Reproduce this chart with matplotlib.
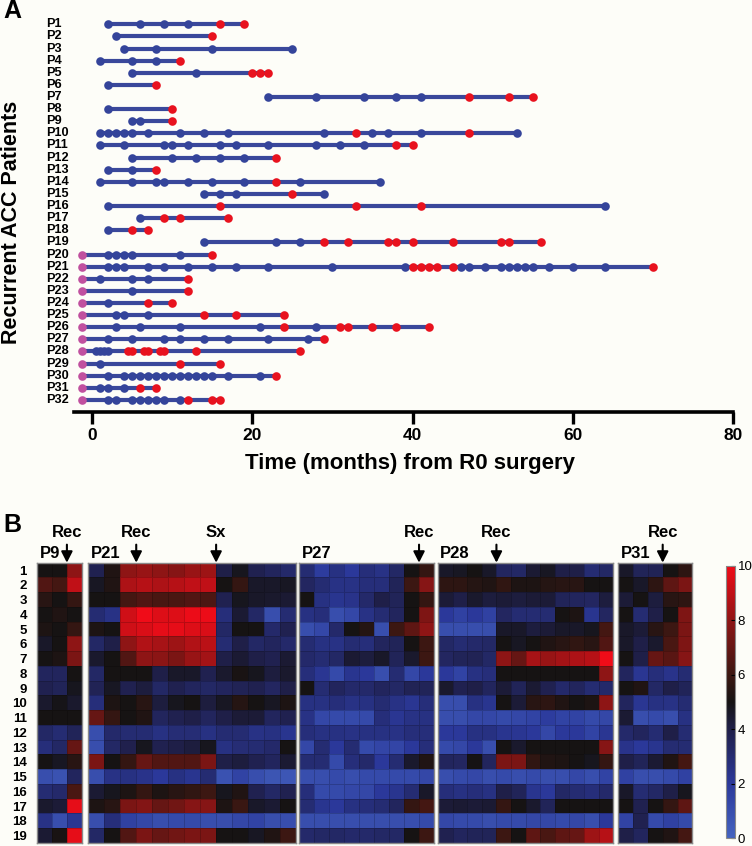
import numpy as np
import matplotlib
matplotlib.use("Agg")
import matplotlib.pyplot as plt
import matplotlib.transforms as mtransforms
from matplotlib.colors import LinearSegmentedColormap

plt.rcParams['font.family'] = ['Liberation Sans', 'DejaVu Sans']

# ---------------------------------------------------------------------------
# Panel A data: follow-up timepoints (months from R0 surgery)
# ---------------------------------------------------------------------------
PATIENTS = [f"P{i}" for i in range(1, 33)]
BLUE_PTS = [
    [2, 6, 9, 12], [3], [4, 8, 15, 25], [1, 5, 8], [5, 13], [2],
    [22, 28, 34, 38, 41], [2], [5, 6],
    [1, 2, 3, 4, 5, 7, 11, 14, 17, 29, 35, 37, 41, 53],
    [1, 4, 9, 10, 12, 16, 18, 22, 28, 31, 34],
    [5, 10, 13, 16, 19], [2, 5], [1, 5, 8, 9, 12, 15, 19, 26, 36],
    [14, 16, 18, 29], [2, 64], [6], [2], [14, 23, 26],
    [2, 3, 4, 5, 11],
    [2, 3, 4, 7, 9, 12, 15, 18, 22, 30, 39, 46, 47, 49, 51, 52, 53, 54, 55, 57, 60, 64],
    [1, 5, 7], [5], [2], [3, 4, 7], [3, 6, 11, 21, 28],
    [2, 5, 9, 11, 14, 17, 22, 27], [0.5, 1, 1.5, 2], [1],
    [2, 4, 5, 6, 7, 8, 9, 10, 11, 12, 13, 14, 15, 17, 21],
    [1, 2, 4], [2, 3, 5, 6, 7, 8, 9, 11],
]
RED_PTS = [
    [16, 19], [15], [], [11], [20, 21, 22], [8], [47, 52, 55], [10], [10],
    [33, 47], [38, 40], [23], [8], [23], [25], [16, 33, 41], [9, 11, 17],
    [5, 7], [29, 32, 37, 38, 40, 45, 51, 52, 56], [15],
    [40, 41, 42, 43, 45, 70], [12], [12], [7, 10], [14, 18, 24],
    [24, 31, 32, 35, 38, 42], [29], [4.5, 5, 6.5, 7, 8.5, 9, 13, 26],
    [11, 16], [23], [6, 8], [12, 15, 16],
]
PINK_PTS = [None] * 19 + [-1.2] * 13
X_TICKS = [0, 20, 40, 60, 80]

# ---------------------------------------------------------------------------
# Panel B data: heatmap values (0-10), rows = markers 1-19
# ---------------------------------------------------------------------------
ROW_LABELS = [str(i) for i in range(1, 20)]
P9_VALS = [
    [5.0, 5.0, 8.0], [6.5, 6.2, 9.0], [5.5, 5.0, 5.8], [5.0, 5.3, 5.0],
    [5.2, 5.0, 5.8], [4.6, 5.0, 8.0], [5.0, 5.2, 7.5], [3.5, 3.5, 5.0],
    [3.8, 3.6, 4.8], [4.5, 4.9, 4.5], [5.0, 5.0, 5.0], [3.3, 3.0, 3.6],
    [2.8, 3.3, 7.0], [5.0, 4.7, 5.5], [1.0, 0.8, 3.5], [3.0, 3.2, 6.3],
    [4.5, 4.3, 9.8], [2.5, 1.0, 2.2], [4.4, 5.1, 9.8],
]
P21_VALS = [
    [3.8, 5.3, 8.0, 8.2, 8.0, 7.8, 8.2, 8.3, 4.0, 4.8, 3.8, 3.5, 3.2],
    [4.7, 5.3, 8.6, 8.8, 8.6, 8.8, 9.0, 9.0, 5.0, 5.8, 4.6, 4.6, 4.7],
    [5.0, 5.0, 6.2, 6.5, 6.3, 6.3, 6.5, 6.4, 3.8, 4.8, 4.6, 4.5, 4.4],
    [3.0, 2.5, 9.3, 10.0, 9.6, 9.6, 9.9, 9.9, 2.8, 4.4, 3.3, 1.0, 3.0],
    [5.2, 5.0, 9.3, 9.5, 9.8, 9.8, 9.6, 9.5, 3.3, 5.0, 5.0, 3.2, 3.8],
    [3.3, 4.0, 8.0, 8.7, 8.5, 8.3, 8.7, 8.9, 3.0, 4.0, 3.3, 3.5, 3.2],
    [4.5, 5.0, 6.5, 8.0, 7.9, 7.5, 8.2, 8.4, 4.0, 4.4, 4.0, 3.8, 4.4],
    [3.3, 5.0, 5.0, 5.0, 4.0, 4.6, 4.6, 3.8, 4.5, 5.1, 4.8, 4.2, 4.5],
    [3.7, 4.7, 3.8, 4.2, 3.3, 3.8, 3.5, 3.3, 3.5, 3.7, 3.8, 3.4, 4.0],
    [2.8, 5.2, 5.0, 5.5, 4.2, 4.8, 5.0, 4.2, 4.7, 5.4, 5.0, 4.7, 5.2],
    [7.0, 5.8, 5.0, 5.3, 3.5, 3.8, 4.0, 3.5, 4.0, 4.3, 4.3, 3.5, 3.8],
    [1.0, 3.2, 3.0, 3.0, 2.6, 2.9, 2.9, 2.6, 3.0, 3.0, 2.5, 2.6, 2.3],
    [1.0, 3.3, 3.9, 4.8, 3.8, 4.0, 4.2, 4.8, 2.6, 2.9, 3.0, 3.2, 5.0],
    [7.5, 5.0, 5.8, 7.0, 6.5, 6.5, 6.5, 7.5, 4.0, 4.2, 3.8, 3.5, 4.4],
    [1.0, 2.5, 2.6, 2.4, 2.0, 2.6, 2.3, 3.0, 0.8, 1.5, 1.0, 0.7, 0.6],
    [4.4, 4.8, 5.2, 5.8, 5.2, 5.5, 5.7, 6.0, 4.8, 5.3, 3.8, 3.3, 3.8],
    [5.2, 5.5, 7.5, 7.7, 7.0, 7.3, 7.8, 7.8, 5.2, 5.9, 4.6, 4.4, 5.0],
    [1.0, 2.8, 1.6, 1.3, 1.0, 1.2, 1.2, 1.0, 1.0, 1.3, 1.5, 1.0, 1.0],
    [3.3, 5.0, 6.5, 7.5, 7.0, 7.3, 7.5, 7.5, 5.0, 5.0, 4.7, 5.3, 6.0],
]
P27_VALS = [
    [3.0, 1.8, 2.6, 2.0, 2.8, 2.5, 3.3, 5.0, 5.8],
    [3.4, 3.0, 2.5, 2.5, 2.8, 2.8, 3.6, 6.0, 7.8],
    [5.0, 2.6, 2.3, 2.4, 3.2, 4.0, 3.6, 5.0, 5.8],
    [2.6, 2.8, 1.0, 1.3, 2.5, 3.0, 3.5, 5.0, 7.6],
    [1.0, 1.3, 3.2, 5.0, 5.4, 1.0, 6.0, 6.8, 8.0],
    [3.0, 2.6, 2.5, 3.0, 2.8, 3.5, 3.6, 5.0, 6.0],
    [3.2, 3.0, 3.3, 4.4, 4.2, 4.6, 3.6, 4.5, 6.0],
    [2.8, 2.2, 1.2, 2.3, 2.0, 1.0, 3.0, 1.3, 2.0],
    [5.0, 3.0, 3.5, 3.2, 3.2, 3.5, 3.3, 3.7, 3.6],
    [2.6, 2.6, 2.8, 2.5, 2.6, 3.0, 2.5, 2.2, 2.8],
    [2.5, 1.3, 1.2, 1.2, 1.2, 2.8, 2.2, 2.5, 2.6],
    [2.8, 2.6, 2.6, 2.5, 2.6, 2.6, 2.5, 2.8, 2.8],
    [1.3, 3.0, 2.0, 3.0, 1.2, 1.4, 1.4, 2.0, 2.8],
    [3.0, 3.0, 1.2, 2.8, 3.2, 2.0, 3.0, 4.5, 5.3],
    [1.0, 1.0, 1.2, 1.0, 1.2, 1.2, 1.2, 1.2, 1.3],
    [2.8, 1.2, 1.2, 1.3, 1.3, 2.0, 2.3, 3.0, 4.6],
    [3.0, 2.3, 2.0, 2.6, 2.8, 3.0, 3.5, 5.8, 6.2],
    [1.0, 1.0, 1.0, 1.0, 1.0, 1.0, 1.0, 1.0, 1.2],
    [3.2, 3.3, 3.3, 3.2, 3.2, 3.3, 3.3, 5.0, 6.0],
]
P28_VALS = [
    [4.6, 4.7, 5.0, 4.6, 3.4, 3.3, 4.4, 4.7, 4.0, 4.0, 3.0, 3.3],
    [5.6, 5.6, 5.4, 5.3, 5.7, 5.2, 5.2, 5.4, 5.5, 5.5, 5.0, 5.0],
    [4.3, 4.0, 4.5, 4.2, 4.3, 4.2, 4.3, 4.3, 3.6, 3.5, 3.4, 4.2],
    [2.0, 1.6, 2.0, 1.6, 3.4, 3.0, 3.0, 3.0, 5.0, 5.2, 2.3, 3.4],
    [1.0, 1.0, 1.0, 1.0, 4.6, 4.6, 4.2, 4.3, 4.6, 4.6, 4.8, 6.2],
    [3.3, 3.0, 3.2, 3.3, 5.0, 4.7, 5.0, 5.3, 5.5, 5.7, 5.5, 6.5],
    [3.4, 3.6, 3.7, 3.3, 8.0, 7.0, 8.5, 8.2, 8.4, 8.6, 8.8, 10.0],
    [2.0, 1.5, 2.6, 2.8, 5.0, 5.0, 5.0, 5.0, 5.0, 5.0, 5.0, 8.0],
    [4.5, 3.8, 4.0, 3.5, 4.3, 3.6, 4.4, 3.8, 3.2, 3.5, 3.0, 3.2],
    [1.0, 1.0, 2.6, 2.3, 5.0, 4.3, 5.5, 5.6, 5.3, 5.0, 5.2, 8.0],
    [1.0, 1.0, 1.3, 1.3, 1.2, 1.3, 1.5, 1.8, 1.5, 1.5, 1.2, 1.3],
    [2.0, 2.0, 2.6, 2.6, 2.3, 2.2, 2.0, 1.3, 2.0, 2.0, 1.5, 2.2],
    [1.2, 1.3, 2.0, 1.0, 5.0, 4.5, 5.0, 5.0, 5.0, 5.0, 5.0, 7.8],
    [3.5, 3.4, 5.0, 3.5, 7.5, 7.5, 5.7, 5.3, 5.2, 5.0, 4.8, 5.8],
    [1.0, 1.2, 1.3, 1.0, 1.2, 1.0, 1.2, 1.0, 1.0, 1.3, 1.0, 1.5],
    [2.8, 2.6, 2.8, 2.6, 4.0, 3.6, 2.3, 2.0, 3.3, 3.0, 2.8, 3.2],
    [4.3, 4.4, 4.3, 4.4, 5.8, 5.0, 4.5, 3.6, 5.0, 5.0, 5.0, 5.0],
    [1.3, 1.2, 1.2, 1.0, 1.2, 1.2, 1.3, 1.3, 1.2, 1.3, 1.0, 2.0],
    [3.8, 3.5, 3.6, 3.6, 6.0, 5.0, 6.8, 6.3, 6.8, 7.0, 8.3, 8.8],
]
P31_VALS = [
    [4.6, 3.6, 3.7, 5.0, 5.6], [5.0, 4.6, 5.6, 6.8, 7.5],
    [4.3, 5.0, 4.2, 5.5, 5.6], [5.0, 3.0, 4.0, 5.0, 7.6],
    [4.6, 4.3, 5.5, 6.0, 7.5], [4.6, 4.0, 4.5, 6.3, 7.6],
    [5.0, 4.0, 7.0, 6.7, 7.8], [3.5, 2.2, 2.8, 2.4, 3.0],
    [5.0, 5.3, 3.3, 4.0, 3.6], [3.5, 2.2, 2.6, 2.5, 3.0],
    [4.4, 1.0, 1.2, 1.0, 2.6], [3.2, 3.5, 3.0, 4.0, 3.0],
    [2.4, 2.0, 2.3, 3.0, 3.0], [4.0, 3.6, 4.4, 5.3, 6.2],
    [1.6, 1.0, 1.0, 1.2, 1.6], [4.6, 3.0, 3.3, 4.0, 4.8],
    [5.0, 3.8, 5.0, 5.8, 6.8], [1.5, 3.8, 1.2, 1.6, 1.2],
    [4.0, 3.5, 5.0, 5.3, 6.2],
]
# (name, values, [(column boundary, label)])
HEATMAPS = [
    ("P9", P9_VALS, [(2, "Rec")]),
    ("P21", P21_VALS, [(3, "Rec"), (8, "Sx")]),
    ("P27", P27_VALS, [(8, "Rec")]),
    ("P28", P28_VALS, [(4, "Rec")]),
    ("P31", P31_VALS, [(3, "Rec")]),
]
CB_TICKS = [0, 2, 4, 6, 8, 10]

# ---------------------------------------------------------------------------
BG = "#fdfdf8"
LINE_C = "#3a489b"
BLUE_C = "#34449a"
RED_C = "#e8121e"
PINK_C = "#c0509f"
CMAP = LinearSegmentedColormap.from_list("bk", [
    (0.0, "#4463c0"), (0.2, "#2b389a"), (0.4, "#1f1f48"), (0.5, "#151313"),
    (0.6, "#3c1712"), (0.8, "#8e1515"), (1.0, "#f00c18")])

W, H = 752, 846
fig = plt.figure(figsize=(W / 100, H / 100), dpi=100, facecolor=BG)


def box(l, t, w, h):
    return [l / W, 1 - (t + h) / H, w / W, h / H]


# ============================== Panel A ====================================
axA = fig.add_axes(box(73.6, 12.2, 659.4, 399.8))
axA.set_facecolor("none")
for i, (b, r, p) in enumerate(zip(BLUE_PTS, RED_PTS, PINK_PTS)):
    y = i + 1
    pts = b + r + ([p] if p is not None else [])
    axA.plot([min(pts), max(pts)], [y, y], color=LINE_C, lw=3.0,
             solid_capstyle="butt", zorder=1)
    axA.plot(b, [y] * len(b), "o", color=BLUE_C, ms=6.2, mec="none", zorder=2)
    if r:
        axA.plot(r, [y] * len(r), "o", color=RED_C, ms=6.2, mec="none", zorder=3)
    if p is not None:
        axA.plot([p], [y], "o", color=PINK_C, ms=6.2, mec="none", zorder=3)

axA.set_xlim(-2.3, 80)
axA.set_ylim(33, 0)
for s in ["left", "right", "top"]:
    axA.spines[s].set_visible(False)
axA.spines["bottom"].set_linewidth(2.6)
axA.set_yticks([])
axA.set_xticks(X_TICKS)
axA.tick_params(axis="x", direction="out", length=8.5, width=2.4, pad=3,
                labelsize=12.5)
for lab in axA.get_xticklabels():
    lab.set_fontweight("bold")

trans = mtransforms.blended_transform_factory(fig.transFigure, axA.transData)
for i, name in enumerate(PATIENTS):
    axA.text(46 / W, i + 1, name, transform=trans, ha="left", va="center",
             fontsize=9.2, fontweight="bold")

fig.text(410 / W, 1 - 463 / H, "Time (months) from R0 surgery", ha="center",
         va="center", fontsize=16, fontweight="bold")
fig.text(12 / W, 1 - 222 / H, "Recurrent ACC Patients", ha="center",
         va="center", rotation=90, fontsize=15.5, fontweight="bold")
fig.text(3 / W, 1 - 11 / H, "A", ha="left", va="center", fontsize=18,
         fontweight="bold")
fig.text(3 / W, 1 - 525 / H, "B", ha="left", va="center", fontsize=18,
         fontweight="bold")

# ============================== Panel B ====================================
HM_BOXES = [(37.3, 44.4), (88.3, 207.7), (299.3, 134.7), (438.0, 175.3),
            (618.3, 74.0)]
top, height = 562.7, 280.3
mesh = None
for k, ((name, vals, marks), (left, width)) in enumerate(zip(HEATMAPS, HM_BOXES)):
    ax = fig.add_axes(box(left, top, width, height))
    data = np.array(vals)
    mesh = ax.pcolormesh(data, cmap=CMAP, vmin=0, vmax=10,
                         edgecolors=(0, 0, 0, 0.18), linewidth=0.4)
    ax.set_xlim(0, data.shape[1])
    ax.set_ylim(data.shape[0], 0)
    ax.set_xticks([])
    if k == 0:
        ax.set_yticks(np.arange(len(ROW_LABELS)) + 0.5)
        ax.set_yticklabels(ROW_LABELS, fontsize=9.5, fontweight="bold")
        ax.tick_params(axis="y", length=0, pad=7.5)
    else:
        ax.set_yticks([])
    for s in ax.spines.values():
        s.set_color("#8a8a8a")
        s.set_linewidth(1.0)
    ax.annotate(name, xy=(0, 1), xycoords="axes fraction", xytext=(1.5, 1.5),
                textcoords="offset points", ha="left", va="bottom",
                fontsize=12, fontweight="bold")
    for xb, txt in marks:
        ax.annotate(txt, xy=(xb, 0), xycoords="data", xytext=(0, 16),
                    textcoords="offset points", ha="center", va="bottom",
                    fontsize=12, fontweight="bold", annotation_clip=False,
                    arrowprops=dict(arrowstyle="-|>,head_width=0.28,head_length=0.55",
                                    color="k", lw=1.5, shrinkA=1, shrinkB=0))

cax = fig.add_axes(box(725.7, 566, 9.3, 272))
cb = fig.colorbar(mesh, cax=cax, ticks=CB_TICKS)
cb.outline.set_edgecolor("#8a8a8a")
cb.outline.set_linewidth(0.8)
cax.tick_params(length=3, width=0.8, direction="in", labelsize=9.5, pad=2)

fig.savefig("out.png", dpi=100, facecolor=BG)
